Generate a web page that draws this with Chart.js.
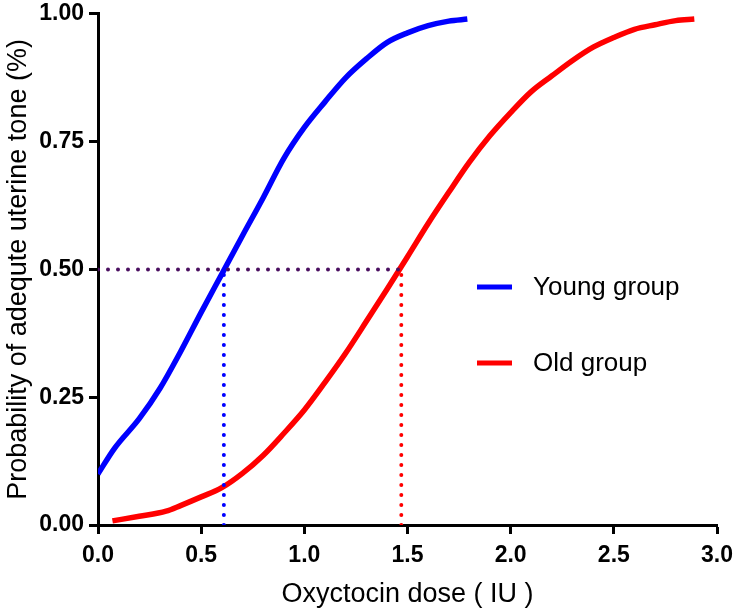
<!DOCTYPE html>
<html>
<head>
<meta charset="utf-8">
<title>Oxytocin dose response</title>
<script src="https://cdn.jsdelivr.net/npm/chart.js@4.4.1/dist/chart.umd.min.js"></script>
<style>
    html, body { margin: 0; padding: 0; background: #fff; }
    #wrap { width: 735px; height: 611px; position: relative; }
</style>
</head>
<body>
<div id="wrap"><canvas id="doseChart"></canvas></div>
<script>
// Values
const youngDose = [0.00, 0.08, 0.2, 0.3, 0.4, 0.5, 0.6, 0.7, 0.8, 0.9, 1.0, 1.1, 1.2, 1.3, 1.4, 1.5, 1.6, 1.7, 1.79];
const youngProb = [0.10, 0.15, 0.208, 0.267, 0.339, 0.416, 0.491, 0.566, 0.64, 0.717, 0.778, 0.828, 0.875, 0.912, 0.944, 0.963, 0.977, 0.986, 0.99];

const oldDose = [0.07, 0.2, 0.33, 0.4, 0.5, 0.6, 0.7, 0.8, 0.9, 1.0, 1.1, 1.2, 1.3, 1.4, 1.5, 1.6, 1.7, 1.8, 1.9, 2.0, 2.1, 2.2, 2.3, 2.4, 2.5, 2.6, 2.7, 2.8, 2.89];
const oldProb = [0.008, 0.017, 0.027, 0.038, 0.055, 0.073, 0.101, 0.136, 0.179, 0.225, 0.279, 0.336, 0.398, 0.461, 0.525, 0.59, 0.651, 0.71, 0.762, 0.807, 0.848, 0.879, 0.909, 0.935, 0.954, 0.97, 0.979, 0.987, 0.99];

// ED50 markers
const halfProb = 0.5;
const youngEd50 = 0.61;
const oldEd50 = 1.47;

const seriesNames = ['Young group', 'Old group'];
const seriesColors = ['#0000ff', '#ff0000'];

const xTicks = [0, 0.5, 1.0, 1.5, 2.0, 2.5, 3.0];
const yTicks = [0, 0.25, 0.5, 0.75, 1.0];

function toPoints(xs, ys) {
    return xs.map(function(x, i) { return { x: x, y: ys[i] }; });
}

function dotted(points, color) {
    return {
        data: points,
        borderColor: color,
        borderWidth: 4,
        borderDash: [0, 10],
        borderCapStyle: 'round',
        pointRadius: 0,
        fill: false
    };
}

// Legend drawn inside the plot area, right side
const insideLegend = {
    id: 'insideLegend',
    afterDatasetsDraw(chart) {
        const ctx = chart.ctx;
        const area = chart.chartArea;
        const x0 = area.left + 379;
        const rows = [area.top + 273, area.top + 349];
        ctx.save();
        seriesNames.forEach(function(name, i) {
            ctx.strokeStyle = seriesColors[i];
            ctx.lineWidth = 5;
            ctx.beginPath();
            ctx.moveTo(x0, rows[i]);
            ctx.lineTo(x0 + 35, rows[i]);
            ctx.stroke();
            ctx.fillStyle = '#000';
            ctx.font = '26px "Liberation Sans", Arial, sans-serif';
            ctx.textBaseline = 'middle';
            ctx.fillText(name, x0 + 56, rows[i] + 1);
        });
        ctx.restore();
    }
};

document.addEventListener('DOMContentLoaded', function() {
    const ctx = document.getElementById('doseChart').getContext('2d');
    const family = '"Liberation Sans", Arial, sans-serif';
    const titleFont = { family: family, size: 27 };

    new Chart(ctx, {
        type: 'line',
        data: {
            datasets: [
                dotted([{ x: 0, y: halfProb }, { x: oldEd50, y: halfProb }], '#4b1060'),
                dotted([{ x: youngEd50, y: 0 }, { x: youngEd50, y: halfProb }], '#0000ff'),
                dotted([{ x: oldEd50, y: 0 }, { x: oldEd50, y: halfProb }], '#ff0000'),
                {
                    label: seriesNames[0],
                    data: toPoints(youngDose, youngProb),
                    borderColor: seriesColors[0],
                    borderWidth: 5.5,
                    pointRadius: 0,
                    cubicInterpolationMode: 'monotone',
                    fill: false
                },
                {
                    label: seriesNames[1],
                    data: toPoints(oldDose, oldProb),
                    borderColor: seriesColors[1],
                    borderWidth: 5.5,
                    pointRadius: 0,
                    cubicInterpolationMode: 'monotone',
                    fill: false
                }
            ]
        },
        options: {
            responsive: true,
            maintainAspectRatio: false,
            animation: false,
            layout: {
                padding: { top: 11, right: 18, bottom: 0, left: 0 }
            },
            plugins: {
                legend: { display: false },
                tooltip: { enabled: false }
            },
            scales: {
                x: {
                    type: 'linear',
                    min: 0,
                    max: 3,
                    afterBuildTicks: function(scale) {
                        scale.ticks = xTicks.map(function(v) { return { value: v }; });
                    },
                    afterFit: function(scale) {
                        scale.height = 86;
                    },
                    border: { display: true, color: '#000', width: 3 },
                    grid: {
                        drawOnChartArea: false,
                        drawTicks: true,
                        tickLength: 9,
                        tickWidth: 3,
                        tickColor: '#000'
                    },
                    ticks: {
                        color: '#000',
                        padding: 0,
                        maxRotation: 0,
                        font: { family: family, size: 23, weight: 'bold', lineHeight: 1.9 },
                        callback: function(value) { return Number(value).toFixed(1); }
                    },
                    title: {
                        display: true,
                        text: 'Oxyctocin dose ( IU )',
                        color: '#000',
                        padding: { top: 0, bottom: 0 },
                        font: titleFont
                    }
                },
                y: {
                    type: 'linear',
                    min: 0,
                    max: 1,
                    afterBuildTicks: function(scale) {
                        scale.ticks = yTicks.map(function(v) { return { value: v }; });
                    },
                    afterFit: function(scale) {
                        scale.width = 98;
                    },
                    border: { display: true, color: '#000', width: 3 },
                    grid: {
                        drawOnChartArea: false,
                        drawTicks: true,
                        tickLength: 9,
                        tickWidth: 3,
                        tickColor: '#000'
                    },
                    ticks: {
                        color: '#000',
                        padding: 5,
                        font: { family: family, size: 23, weight: 'bold', lineHeight: 0.78 },
                        callback: function(value) { return Number(value).toFixed(2); }
                    },
                    title: {
                        display: true,
                        text: 'Probability of adequte uterine tone (%)',
                        color: '#000',
                        padding: { top: 2, bottom: 0 },
                        font: titleFont
                    }
                }
            }
        },
        plugins: [insideLegend]
    });
});
</script>
</body>
</html>
